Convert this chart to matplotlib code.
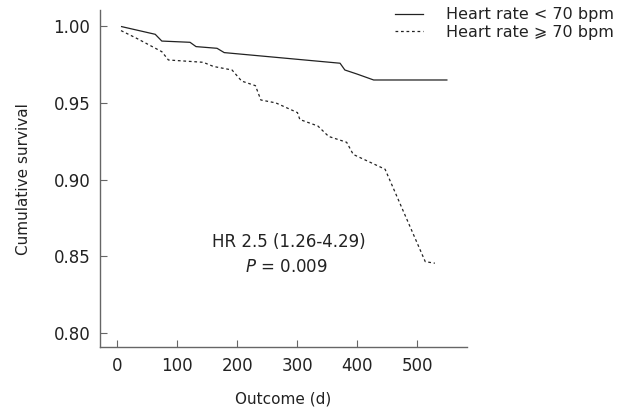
import matplotlib
matplotlib.use("Agg")
import matplotlib.pyplot as plt
from matplotlib.lines import Line2D

plt.rcParams["font.family"] = ["DejaVu Sans", "Noto Sans"]

# Kaplan-Meier style curves
days_low = [7, 63, 74, 121, 131, 166, 178, 371, 379, 399, 427, 549]
surv_low = [0.9994, 0.9944, 0.990, 0.9892, 0.9864, 0.9853, 0.9825, 0.9756, 0.9712, 0.9686, 0.9647, 0.9647]

days_high = [6, 32, 74, 85, 143, 160, 191, 207, 230, 239, 264, 300, 304, 334, 352, 382, 393, 446, 513, 529]
surv_high = [0.9968, 0.9918, 0.9831, 0.9777, 0.9762, 0.9735, 0.9712, 0.9640, 0.9610, 0.9517, 0.9498,
             0.9435, 0.939, 0.9348, 0.928, 0.9242, 0.9163, 0.9067, 0.8466, 0.8456]

labels = ["Heart rate < 70 bpm", "Heart rate ⩾ 70 bpm"]
xticks = [0, 100, 200, 300, 400, 500]
yticks = [0.80, 0.85, 0.90, 0.95, 1.00]

txt = "#222222"
spine = "#666666"
dash = (0, (2.2, 2.2))

fig = plt.figure(figsize=(6.27, 4.13), dpi=100)
ax = fig.add_axes([0.1595, 0.1586, 0.5848, 0.8172])

ax.plot(days_low, surv_low, color="#222222", lw=0.9)
ax.plot(days_high, surv_high, color="#222222", lw=0.9, linestyle=dash)

ax.set_xlim(-29, 582)
ax.set_ylim(0.7908, 1.0102)
ax.set_xticks(xticks)
ax.set_yticks(yticks)
ax.set_yticklabels([f"{v:.2f}" for v in yticks])

for s in ["top", "right"]:
    ax.spines[s].set_visible(False)
for s in ["left", "bottom"]:
    ax.spines[s].set_color(spine)
    ax.spines[s].set_linewidth(1.0)
ax.tick_params(direction="in", length=5, width=0.8, color=spine, labelsize=12, labelcolor=txt, pad=7)

ax.set_xlabel("Outcome (d)", fontsize=11, color=txt, labelpad=12)
ax.set_ylabel("Cumulative survival", fontsize=11, color=txt, labelpad=16)

ax.text(285, 0.8596, "HR 2.5 (1.26-4.29)", ha="center", va="center", fontsize=12, color=txt)
ax.text(282, 0.8430, "$P$ = 0.009", ha="center", va="center", fontsize=12, color=txt)

handles = [Line2D([], [], color="#222222", lw=0.9),
           Line2D([], [], color="#222222", lw=0.9, linestyle=dash)]
fig.legend(handles, labels, loc="upper left", bbox_to_anchor=(0.607, 1.017), frameon=False,
           fontsize=11.5, handlelength=1.75, handletextpad=1.45, labelspacing=0.17, labelcolor=txt)

fig.savefig("out.png", dpi=100)
